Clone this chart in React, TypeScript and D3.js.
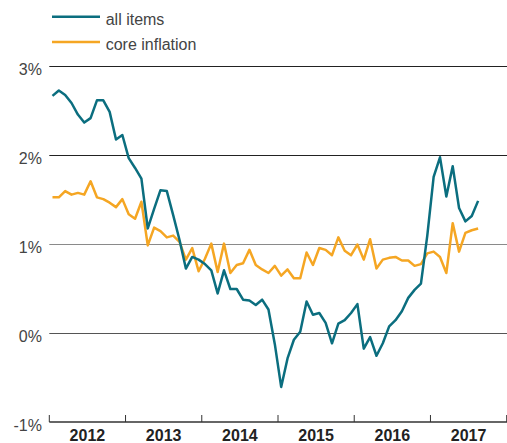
import React from "react";
import * as d3 from "d3";

const years = ["2012", "2013", "2014", "2015", "2016", "2017"];
const yTicks = [-1, 0, 1, 2, 3];

const allItems = [
  2.67, 2.73, 2.68, 2.59, 2.46, 2.37, 2.42, 2.62, 2.62, 2.49, 2.18, 2.23,
  1.97, 1.86, 1.74, 1.18, 1.40, 1.61, 1.60, 1.33, 1.05, 0.73, 0.86, 0.83,
  0.78, 0.71, 0.45, 0.71, 0.50, 0.50, 0.38, 0.37, 0.32, 0.38, 0.27, -0.12,
  -0.60, -0.28, -0.07, 0.02, 0.36, 0.21, 0.23, 0.12, -0.11, 0.11, 0.15, 0.23,
  0.33, -0.17, -0.04, -0.25, -0.11, 0.08, 0.15, 0.25, 0.40, 0.49, 0.56, 1.10,
  1.76, 1.98, 1.54, 1.88, 1.41, 1.26, 1.32, 1.49,
];

const coreInflation = [
  1.53, 1.53, 1.60, 1.56, 1.58, 1.56, 1.71, 1.53, 1.51, 1.47, 1.42, 1.51,
  1.34, 1.29, 1.48, 0.99, 1.19, 1.15, 1.08, 1.10, 1.03, 0.83, 0.96, 0.70,
  0.84, 1.01, 0.69, 1.01, 0.68, 0.77, 0.79, 0.94, 0.77, 0.72, 0.68, 0.76,
  0.65, 0.72, 0.62, 0.62, 0.91, 0.77, 0.96, 0.94, 0.88, 1.08, 0.93, 0.88,
  1.00, 0.83, 1.06, 0.73, 0.83, 0.85, 0.86, 0.82, 0.82, 0.76, 0.78, 0.90,
  0.92, 0.86, 0.68, 1.24, 0.92, 1.13, 1.16, 1.18,
];

const seriesNames = ["all items", "core inflation"];
const seriesColors = ["#0b6e7f", "#f5a623"];

const W = 507;
const H = 443;
const left = 49.3;
const right = 506.7;

export default function App() {
  const x = d3.scaleLinear().domain([0, years.length * 12]).range([left, right]);
  const y = d3.scaleLinear().domain([-1, 3]).range([422.5, 66.5]);

  const line = d3
    .line<number>()
    .x((_, i) => x(i + 0.5))
    .y((d) => y(d));

  const gridColor: Record<number, string> = { 3: "#222", 2: "#222", 1: "#8a8a8a", 0: "#555" };
  const font = "'Liberation Sans', Arial, Helvetica, sans-serif";

  return (
    <svg
      width={W}
      height={H}
      style={{ position: "absolute", left: 0, top: 0, background: "#fff" }}
      fontFamily={font}
    >
      {yTicks.filter((t) => t !== -1).map((t) => (
        <line
          key={t}
          x1={left}
          x2={right + 1}
          y1={y(t)}
          y2={y(t)}
          stroke={gridColor[t]}
          strokeWidth={1}
        />
      ))}
      {yTicks.map((t) => (
        <text
          key={"l" + t}
          x={42}
          y={y(t) + 8.5}
          textAnchor="end"
          fontSize={16}
          fill="#444"
        >
          {t}%
        </text>
      ))}
      {/* x axis */}
      <line x1={left} x2={right + 1} y1={422} y2={422} stroke="#333" strokeWidth={1.5} />
      {d3.range(years.length + 1).map((i) => (
        <line
          key={"t" + i}
          x1={x(i * 12)}
          x2={x(i * 12)}
          y1={415}
          y2={422}
          stroke="#333"
          strokeWidth={1}
        />
      ))}
      {years.map((yr, i) => (
        <text
          key={yr}
          x={x(i * 12 + 6)}
          y={441}
          textAnchor="middle"
          fontSize={16}
          fontWeight="bold"
          fill="#222"
        >
          {yr}
        </text>
      ))}
      <path d={line(coreInflation) || ""} fill="none" stroke={seriesColors[1]} strokeWidth={2.5} strokeLinejoin="round" />
      <path d={line(allItems) || ""} fill="none" stroke={seriesColors[0]} strokeWidth={2.5} strokeLinejoin="round" />
      {/* legend */}
      {seriesNames.map((name, i) => (
        <g key={name}>
          <line x1={52} x2={100} y1={16.7 + i * 25.3} y2={16.7 + i * 25.3} stroke={seriesColors[i]} strokeWidth={2.5} />
          <text x={105.7} y={25 + i * 24.5} fontSize={16} fill="#444">
            {name}
          </text>
        </g>
      ))}
    </svg>
  );
}
